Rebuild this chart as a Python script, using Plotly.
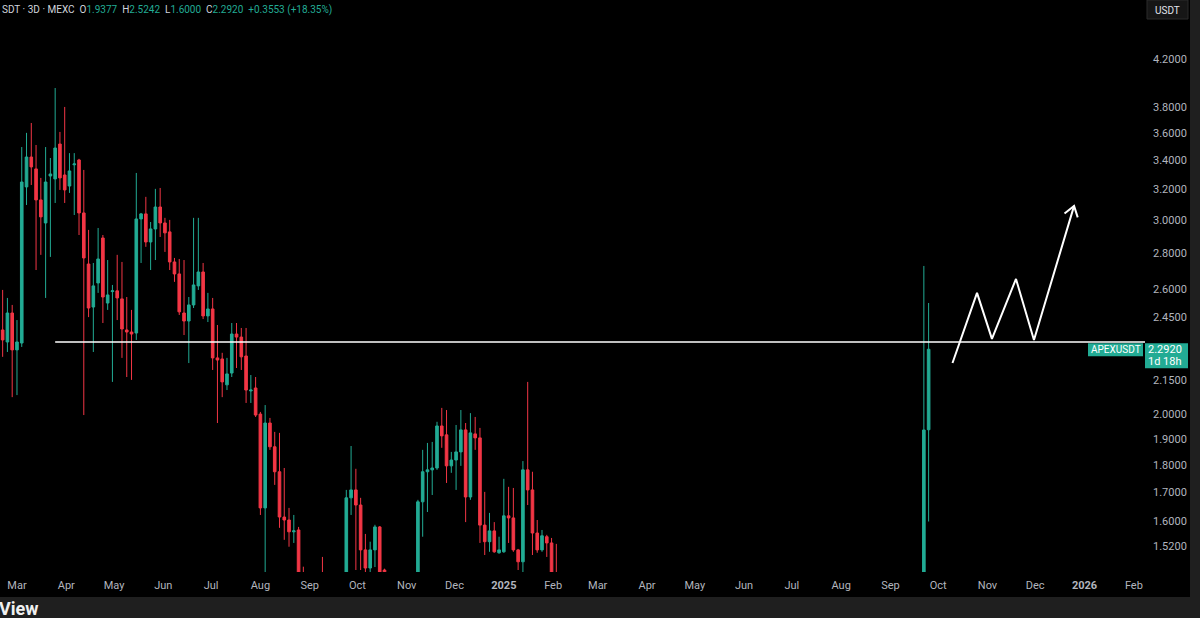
import math
import pandas as pd
import plotly.graph_objects as go

# ---------------- data (3D candles, APEXUSDT on MEXC) ----------------
start_date = "2024-02-21"
opens = [2.386, 2.327, 2.472, 2.289, 2.322, 3.216, 3.423, 3.339, 3.130, 2.983,
         3.290, 3.270, 3.517, 3.297, 3.222, 3.368, 3.402, 3.046, 2.738, 2.503,
         2.632, 2.891, 2.524, 2.585, 2.589, 2.546, 2.386, 2.376, 2.371, 3.008,
         3.040, 2.867, 2.946, 3.084, 2.983, 2.928, 2.750, 2.682, 2.472, 2.431,
         2.514, 2.616, 2.693, 2.457, 2.493, 2.251, 2.246, 2.128, 2.181, 2.366,
         2.351, 2.260, 2.101, 2.114, 2.002, 1.646, 1.965, 1.870, 1.775, 1.615,
         1.605, 1.566, 1.572, 1.430, None, None, None, 1.420, None, None,
         None, None, 1.400, 1.681, 1.709, 1.656, 1.508, 1.452, 1.508, 1.582,
         1.446, None, None, None, None, None, None, 1.400, 1.667, 1.775,
         1.782, 1.789, 1.953, 1.917, 1.797, 1.819, 1.850, 1.937, 1.684, 1.921,
         1.905, 1.588, 1.534, 1.569, 1.499, 1.502, 1.619, 1.612, 1.508, 1.471,
         1.782, 1.709, 1.562, 1.508, 1.550, 1.530, 1.430]
highs = [2.594, 2.551, 2.514, 2.436, 3.495, 3.600, 3.675, 3.510, 3.277, 3.495,
         3.416, 3.953, 3.607, 3.800, 3.451, 3.451, 3.410, 3.332, 2.940, 2.744,
         2.952, 2.909, 2.761, 2.621, 2.791, 2.750, 2.556, 2.488, 3.311, 3.046,
         3.150, 2.989, 3.203, 3.209, 3.015, 3.002, 2.773, 2.767, 2.761, 2.556,
         3.015, 3.015, 2.744, 2.578, 2.551, 2.411, 2.275, 2.251, 2.421, 2.421,
         2.396, 2.396, 2.172, 2.163, 2.011, 2.040, 1.986, 1.929, 1.925, 1.789,
         1.646, 1.622, 1.582, 1.456, None, None, None, 1.486, None, None,
         None, None, 1.709, 1.873, 1.786, 1.681, 1.559, 1.534, 1.589, 1.585,
         1.450, None, None, None, None, None, None, 1.674, 1.858, 1.885,
         1.889, 1.970, 2.028, 2.019, 1.850, 1.957, 2.019, 1.965, 2.006, 1.990,
         1.945, 1.702, 1.629, 1.598, 1.550, 1.749, 1.720, 1.716, 1.511, 1.815,
         2.141, 1.775, 1.605, 1.572, 1.556, 1.546, 1.527]
lows = [2.256, 2.279, 2.074, 2.083, 2.303, 3.097, 3.229, 2.704, 2.791, 2.551,
        2.779, 3.110, 3.196, 3.110, 3.176, 3.033, 2.909, 1.998, 2.451, 2.279,
        2.578, 2.421, 2.488, 2.141, 2.436, 2.251, 2.163, 2.150, 2.337, 2.744,
        2.838, 2.704, 2.761, 2.897, 2.808, 2.704, 2.638, 2.462, 2.361, 2.227,
        2.498, 2.594, 2.441, 2.426, 2.195, 1.965, 2.074, 2.105, 2.163, 2.204,
        2.195, 2.049, 2.049, 1.990, 1.622, 1.400, 1.858, 1.727, 1.579, 1.540,
        1.518, 1.530, 1.400, 1.380, None, None, None, 1.360, None, None,
        None, None, 1.380, 1.622, 1.446, 1.446, 1.420, 1.420, 1.455, 1.400,
        1.400, None, None, None, None, None, None, 1.380, 1.550, 1.632,
        1.691, 1.782, 1.866, 1.734, 1.771, 1.709, 1.797, 1.598, 1.674, 1.858,
        1.530, 1.492, 1.502, 1.499, 1.496, 1.499, 1.530, 1.502, 1.446, 1.430,
        1.656, 1.492, 1.499, 1.502, 1.486, 1.400, 1.380]
closes = [2.337, 2.472, 2.289, 2.327, 3.249, 3.423, 3.353, 3.130, 3.021, 3.249,
          3.304, 3.488, 3.277, 3.196, 3.325, 3.374, 3.046, 2.773, 2.498, 2.616,
          2.767, 2.556, 2.567, 2.589, 2.551, 2.391, 2.376, 2.366, 3.008, 3.040,
          2.867, 2.946, 3.084, 2.983, 2.922, 2.750, 2.682, 2.478, 2.431, 2.514,
          2.621, 2.693, 2.457, 2.493, 2.251, 2.241, 2.141, 2.177, 2.366, 2.351,
          2.256, 2.105, 2.105, 1.998, 1.646, 1.965, 1.870, 1.775, 1.615, 1.605,
          1.566, 1.569, 1.420, 1.400, None, None, None, 1.390, None, None,
          None, None, 1.681, 1.709, 1.656, 1.508, 1.452, 1.508, 1.582, 1.420,
          1.420, None, None, None, None, None, None, 1.667, 1.775, 1.782,
          1.789, 1.953, 1.913, 1.797, 1.819, 1.850, 1.937, 1.684, 1.925, 1.905,
          1.588, 1.534, 1.569, 1.502, 1.508, 1.619, 1.612, 1.508, 1.471, 1.782,
          1.709, 1.562, 1.508, 1.553, 1.530, 1.420, 1.400]

recent_dates = ["2025-09-22", "2025-09-25"]
recent_open = [0.950, 1.9377]
recent_high = [2.727, 2.5242]
recent_low = [0.900, 1.6000]
recent_close = [1.9367, 2.2920]

# drawing: horizontal level and projected zig-zag path
level_price = 2.327
level_start = "2024-03-25"
path_dates = ["2025-10-10", "2025-10-25 10:00", "2025-11-03 19:00",
              "2025-11-18 22:00", "2025-11-30 05:00", "2025-12-25 10:00"]
path_prices = [2.227, 2.578, 2.342, 2.654, 2.337, 3.091]
arrow_dates = ["2025-12-19 10:00", "2025-12-25 10:00", "2025-12-27 17:00"]
arrow_prices = [3.043, 3.091, 3.018]

y_ticks = [1.52, 1.6, 1.7, 1.8, 1.9, 2.0, 2.15, 2.45, 2.6, 2.8, 3.0, 3.2, 3.4,
           3.6, 3.8, 4.2]
x_tick_dates = ["2024-03-01", "2024-04-01", "2024-05-01", "2024-06-01",
                "2024-07-01", "2024-08-01", "2024-09-01", "2024-10-01",
                "2024-11-01", "2024-12-01", "2025-01-01", "2025-02-01",
                "2025-03-01", "2025-04-01", "2025-05-01", "2025-06-01",
                "2025-07-01", "2025-08-01", "2025-09-01", "2025-10-01",
                "2025-11-01", "2025-12-01", "2026-01-01", "2026-02-01"]
x_tick_text = ["Mar", "Apr", "May", "Jun", "Jul", "Aug", "Sep", "Oct", "Nov",
               "Dec", "<b>2025</b>", "Feb", "Mar", "Apr", "May", "Jun", "Jul",
               "Aug", "Sep", "Oct", "Nov", "Dec", "<b>2026</b>", "Feb"]

# ---------------- figure ----------------
W, H = 1200, 618
ML, MR, MT, MB = 0, 55, 0, 46
PW, PH = W - ML - MR, H - MT - MB
y_lo, y_hi = math.log10(1.440), math.log10(4.750)
x_range = ["2024-02-19 08:00", "2026-02-08"]

GREEN = "#22ab94"
RED = "#f23645"
TXT = "#b2b5be"
FONT = "Roboto"


def X(px):
    return (px - ML) / PW


def Y(py):
    return (MT + PH - py) / PH


dates1 = [d.strftime("%Y-%m-%d") for d in pd.date_range(start_date, periods=len(opens), freq="3D")]
all_x = dates1 + recent_dates
all_o = opens + recent_open
all_h = highs + recent_high
all_l = lows + recent_low
all_c = closes + recent_close

fig = go.Figure()
fig.add_trace(go.Candlestick(
    x=all_x, open=all_o, high=all_h, low=all_l, close=all_c,
    increasing=dict(line=dict(color=GREEN, width=1), fillcolor=GREEN),
    decreasing=dict(line=dict(color=RED, width=1), fillcolor=RED),
    whiskerwidth=0, hoverinfo="skip", showlegend=False,
))
fig.add_trace(go.Scatter(
    x=path_dates, y=path_prices, mode="lines",
    line=dict(color="white", width=2), hoverinfo="skip", showlegend=False,
))
fig.add_trace(go.Scatter(
    x=arrow_dates, y=arrow_prices, mode="lines",
    line=dict(color="white", width=2), hoverinfo="skip", showlegend=False,
))

shapes = []
# horizontal level line
shapes.append(dict(type="line", xref="x", yref="y", x0=level_start, x1=x_range[1],
                   y0=level_price, y1=level_price, line=dict(color="white", width=1.5),
                   layer="above"))
# outer frame (grey band bottom and right)
shapes.append(dict(type="rect", xref="paper", yref="paper", x0=X(-10), x1=X(1210),
                   y0=Y(597), y1=Y(640), fillcolor="#1f1f1f", line=dict(width=0), layer="below"))
shapes.append(dict(type="rect", xref="paper", yref="paper", x0=X(1190), x1=X(1210),
                   y0=Y(-10), y1=Y(640), fillcolor="#1f1f1f", line=dict(width=0), layer="below"))
# USDT button
shapes.append(dict(type="rect", xref="paper", yref="paper", x0=X(1147), x1=X(1188),
                   y0=Y(19), y1=Y(0), fillcolor="#161616", line=dict(color="#2a2a2a", width=1),
                   layer="above"))

last_c = recent_close[-1]
prev_c = recent_close[-2]
cy_paper = (math.log10(last_c) - y_lo) / (y_hi - y_lo)
cy_px = MT + PH - cy_paper * PH
shapes.append(dict(type="rect", xref="paper", yref="paper", x0=X(1088), x1=X(1143),
                   y0=Y(cy_px + 7), y1=Y(cy_px - 6), fillcolor=GREEN, line=dict(width=0),
                   layer="above"))
shapes.append(dict(type="rect", xref="paper", yref="paper", x0=X(1145), x1=X(1188),
                   y0=Y(cy_px + 19), y1=Y(cy_px - 6), fillcolor=GREEN, line=dict(width=0),
                   layer="above"))

chg = last_c - prev_c
pct = chg / prev_c * 100
g = lambda s: f'<span style="color:{GREEN}">{s}</span>'
w = lambda s: f'<span style="color:#d1d4dc">{s}</span>'
sp = "&nbsp;&nbsp;"
header = (w("SDT · 3D · MEXC") + sp + w("O") + g(f"{recent_open[-1]:.4f}") + sp +
          w("H") + g(f"{recent_high[-1]:.4f}") + sp + w("L") + g(f"{recent_low[-1]:.4f}") + sp +
          w("C") + g(f"{last_c:.4f}") + sp + g(f"+{chg:.4f} (+{pct:.2f}%)"))

annotations = [
    dict(xref="paper", yref="paper", x=X(0), y=Y(10), xanchor="left", yanchor="middle",
         text=header, showarrow=False, font=dict(family=FONT, size=10, color="#d1d4dc")),
    dict(xref="paper", yref="paper", x=X(1167.5), y=Y(10), xanchor="center", yanchor="middle",
         text="USDT", showarrow=False, font=dict(family=FONT, size=10, color="#e0e3eb")),
    dict(xref="paper", yref="paper", x=X(1115.5), y=Y(cy_px + 0.5), xanchor="center",
         yanchor="middle", text="APEXUSDT", showarrow=False,
         font=dict(family=FONT, size=10, color="white")),
    dict(xref="paper", yref="paper", x=X(1184), y=Y(cy_px), xanchor="right",
         yanchor="middle", text=f"{last_c:.4f}", showarrow=False,
         font=dict(family=FONT, size=11, color="white")),
    dict(xref="paper", yref="paper", x=X(1184), y=Y(cy_px + 12), xanchor="right",
         yanchor="middle", text="1d 18h", showarrow=False,
         font=dict(family=FONT, size=11, color="white")),
    dict(xref="paper", yref="paper", x=X(-3), y=Y(609), xanchor="left", yanchor="middle",
         text="<b>View</b>", showarrow=False,
         font=dict(family=FONT, size=18, color="#f0f0f0")),
]

fig.update_layout(
    width=W, height=H, autosize=False,
    margin=dict(l=ML, r=MR, t=MT, b=MB, pad=0),
    paper_bgcolor="black", plot_bgcolor="black",
    shapes=shapes, annotations=annotations,
    showlegend=False, hovermode=False, boxgap=0.22,
    xaxis=dict(type="date", range=x_range, rangeslider=dict(visible=False),
               showgrid=False, zeroline=False, showline=False,
               tickmode="array", tickvals=x_tick_dates, ticktext=x_tick_text,
               ticks="", ticklabelstandoff=5,
               tickfont=dict(family=FONT, size=11, color=TXT)),
    yaxis=dict(type="log", side="right", range=[y_lo, y_hi],
               showgrid=False, zeroline=False, showline=False,
               tickmode="array", tickvals=y_ticks,
               ticktext=[f"{v:.4f}" for v in y_ticks],
               ticks="", ticklabelstandoff=7,
               tickfont=dict(family=FONT, size=11, color=TXT)),
)

fig.write_html("out.html", config={"displayModeBar": False},
               post_script="document.body.style.margin='0';document.body.style.background='black';")
